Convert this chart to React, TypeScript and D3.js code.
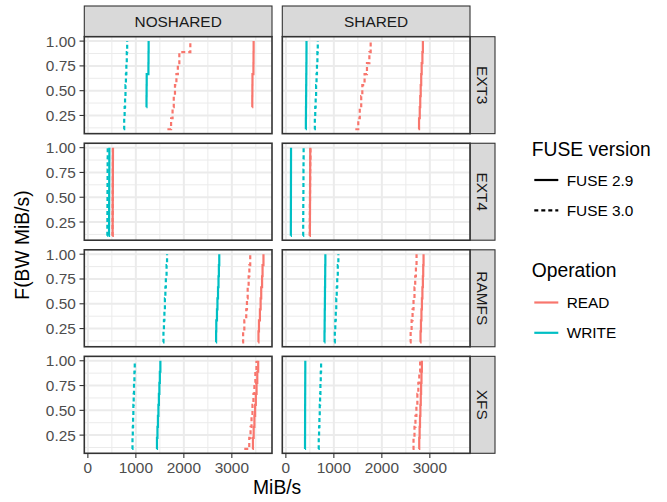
import React from "react";
import * as d3 from "d3";

// facet layout
const sharings = ["NOSHARED", "SHARED"];
const filesystems = ["EXT3", "EXT4", "RAMFS", "XFS"];
const operations = ["READ", "WRITE"];
const versions = ["FUSE 2.9", "FUSE 3.0"];

const opColor: Record<string, string> = { READ: "#F8766D", WRITE: "#00BFC4" };
const versionDash: Record<string, string | undefined> = { "FUSE 2.9": undefined, "FUSE 3.0": "4,3" };

// bandwidth samples (MiB/s), one row per filesystem: EXT3, EXT4, RAMFS, XFS
const nosharedRead29 = [
  [3424, 3424, 3424, 3426, 3428, 3430, 3450, 3452, 3454],
  [515, 516, 517, 518, 519, 520, 521, 522, 523],
  [3549, 3555, 3565, 3585, 3600, 3612, 3630, 3640, 3659],
  [3430, 3440, 3455, 3470, 3485, 3500, 3515, 3530, 3549],
];
const nosharedRead30 = [
  [1657, 1734, 1765, 1790, 1815, 1845, 1875, 1906, 2135],
  [512, 514, 515, 517, 518, 519, 520, 521, 522],
  [3216, 3235, 3260, 3300, 3315, 3330, 3350, 3365, 3383],
  [3259, 3363, 3390, 3410, 3430, 3450, 3470, 3490, 3513],
];
const nosharedWrite29 = [
  [1220, 1220, 1220, 1222, 1224, 1226, 1262, 1264, 1266],
  [440, 441, 442, 443, 444, 445, 446, 447, 448],
  [2669, 2672, 2676, 2690, 2700, 2712, 2722, 2730, 2738],
  [1435, 1440, 1450, 1460, 1470, 1480, 1490, 1500, 1511],
];
const nosharedWrite30 = [
  [748, 757, 766, 775, 784, 793, 802, 811, 819],
  [405, 406, 407, 408, 409, 410, 411, 412, 414],
  [1567, 1575, 1585, 1595, 1605, 1615, 1625, 1640, 1650],
  [923, 930, 936, 942, 948, 955, 962, 970, 977],
];
const sharedRead29 = [
  [2765, 2775, 2790, 2800, 2810, 2820, 2830, 2845, 2855],
  [500, 501, 502, 503, 504, 505, 506, 507, 508],
  [2798, 2806, 2815, 2825, 2835, 2845, 2855, 2862, 2869],
  [2771, 2779, 2787, 2795, 2803, 2811, 2818, 2826, 2834],
];
const sharedRead30 = [
  [1447, 1509, 1540, 1570, 1593, 1640, 1690, 1740, 1767],
  [498, 499, 500, 501, 503, 504, 506, 508, 512],
  [2584, 2600, 2620, 2640, 2660, 2680, 2695, 2710, 2723],
  [2640, 2660, 2680, 2700, 2720, 2740, 2760, 2780, 2798],
];
const sharedWrite29 = [
  [415, 417, 419, 421, 423, 425, 427, 429, 430],
  [103.5, 104, 104.5, 105, 105.5, 106, 106.5, 107, 107.5],
  [803, 805, 808, 810, 813, 815, 818, 820, 823],
  [398, 399, 400, 400.5, 401, 402, 403, 404, 405],
];
const sharedWrite30 = [
  [595, 604, 612, 621, 630, 639, 648, 657, 665],
  [360, 361, 362, 363, 365, 366, 367, 368, 370],
  [1010, 1020, 1030, 1040, 1050, 1060, 1070, 1082, 1094],
  [678, 685, 692, 699, 706, 713, 720, 727, 734],
];

const xTicks = [0, 1000, 2000, 3000];
const yTicks = [0.25, 0.5, 0.75, 1.0];

const samples: Record<string, number[][]> = {
  "NOSHARED|READ|FUSE 2.9": nosharedRead29,
  "NOSHARED|READ|FUSE 3.0": nosharedRead30,
  "NOSHARED|WRITE|FUSE 2.9": nosharedWrite29,
  "NOSHARED|WRITE|FUSE 3.0": nosharedWrite30,
  "SHARED|READ|FUSE 2.9": sharedRead29,
  "SHARED|READ|FUSE 3.0": sharedRead30,
  "SHARED|WRITE|FUSE 2.9": sharedWrite29,
  "SHARED|WRITE|FUSE 3.0": sharedWrite30,
};

const ecdf = (vals: number[]) => {
  const s = [...vals].sort((a, b) => a - b);
  return s.map((v) => ({ x: v, y: s.filter((u) => u <= v).length / s.length }));
};

const FONT = "'Liberation Sans', Arial, sans-serif";
const W = 667;
const H = 502;
const colLeft = [84.3, 282.3];
const panelW = 187.7;
const panelTop = 36.7;
const panelH = 96.95;
const gap = 9.6;
const stripH = 30.7;
const stripW = 25;

const App = () => {
  const all = Object.values(samples).flat(2);
  const [lo, hi] = d3.extent(all) as [number, number];
  const ex = (hi - lo) * 0.05;
  const x = d3.scaleLinear().domain([lo - ex, hi + ex]).range([0, panelW]);
  const yEx = (1 - 1 / 9) * 0.05;
  const y = d3.scaleLinear().domain([1 / 9 - yEx, 1 + yEx]).range([panelH, 0]);
  const line = d3
    .line<{ x: number; y: number }>()
    .x((d) => x(d.x))
    .y((d) => y(d.y))
    .curve(d3.curveStepAfter);

  const xMinor = xTicks.map((t) => t + 500).concat([-500]).filter((t) => t > x.domain()[0] && t < x.domain()[1]);
  const yMinor = [0.125, 0.375, 0.625, 0.875];
  const rowTop = (r: number) => panelTop + r * (panelH + gap);
  const rightEdge = colLeft[1] + panelW;

  return (
    <svg width={W} height={H} style={{ position: "absolute", left: 0, top: 0, background: "white" }} fontFamily={FONT}>
      {/* top strips */}
      {sharings.map((s, c) => (
        <g key={s} transform={`translate(${colLeft[c]},${panelTop - stripH})`}>
          <rect width={panelW} height={stripH} fill="#D9D9D9" stroke="#333333" strokeWidth={1.1} />
          <text x={panelW / 2} y={stripH / 2} textAnchor="middle" dominantBaseline="central" fontSize={15.4} fill="#1A1A1A">
            {s}
          </text>
        </g>
      ))}
      {/* right strips */}
      {filesystems.map((f, r) => (
        <g key={f} transform={`translate(${rightEdge},${rowTop(r)})`}>
          <rect width={stripW} height={panelH} fill="#D9D9D9" stroke="#333333" strokeWidth={1.1} />
          <text
            transform={`translate(${stripW / 2},${panelH / 2}) rotate(90)`}
            textAnchor="middle"
            dominantBaseline="central"
            fontSize={15.4}
            fill="#1A1A1A"
          >
            {f}
          </text>
        </g>
      ))}
      {filesystems.map((f, r) =>
        sharings.map((s, c) => (
          <g key={f + s} transform={`translate(${colLeft[c]},${rowTop(r)})`}>
            <rect width={panelW} height={panelH} fill="white" />
            {xMinor.map((t) => (
              <line key={"xm" + t} x1={x(t)} x2={x(t)} y1={0} y2={panelH} stroke="#EBEBEB" strokeWidth={1} />
            ))}
            {yMinor.map((t) => (
              <line key={"ym" + t} x1={0} x2={panelW} y1={y(t)} y2={y(t)} stroke="#EBEBEB" strokeWidth={1} />
            ))}
            {xTicks.map((t) => (
              <line key={"x" + t} x1={x(t)} x2={x(t)} y1={0} y2={panelH} stroke="#EBEBEB" strokeWidth={2} />
            ))}
            {yTicks.map((t) => (
              <line key={"y" + t} x1={0} x2={panelW} y1={y(t)} y2={y(t)} stroke="#EBEBEB" strokeWidth={2} />
            ))}
            {operations.map((o) =>
              versions.map((v) => (
                <path
                  key={o + v}
                  d={line(ecdf(samples[`${s}|${o}|${v}`][r])) || ""}
                  fill="none"
                  stroke={opColor[o]}
                  strokeWidth={2.2}
                  strokeDasharray={versionDash[v]}
                />
              ))
            )}
            <rect width={panelW} height={panelH} fill="none" stroke="#333333" strokeWidth={1.6} />
            {/* y axis on left column */}
            {c === 0 &&
              yTicks.map((t) => (
                <g key={"yl" + t} transform={`translate(0,${y(t)})`}>
                  <line x1={-4.8} x2={0} stroke="#333333" strokeWidth={1.1} />
                  <text x={-8.5} textAnchor="end" dominantBaseline="central" fontSize={15.4} fill="#4D4D4D">
                    {d3.format(".2f")(t)}
                  </text>
                </g>
              ))}
            {/* x axis on bottom row */}
            {r === filesystems.length - 1 &&
              xTicks.map((t) => (
                <g key={"xl" + t} transform={`translate(${x(t)},${panelH})`}>
                  <line y1={0} y2={4.8} stroke="#333333" strokeWidth={1.1} />
                  <text y={20.2} textAnchor="middle" fontSize={15.4} fill="#4D4D4D">
                    {t}
                  </text>
                </g>
              ))}
          </g>
        ))
      )}
      <text x={(colLeft[0] + rightEdge) / 2} y={494} textAnchor="middle" fontSize={19.3} fill="black">
        MiB/s
      </text>
      <text
        transform={`translate(22,${panelTop + (4 * panelH + 3 * gap) / 2}) rotate(-90)`}
        textAnchor="middle"
        dominantBaseline="central"
        fontSize={19.3}
        fill="black"
      >
        F(BW MiB/s)
      </text>
      {/* legends */}
      <g transform="translate(531.7,0)">
        <text y={156} fontSize={19.3} fill="black">FUSE version</text>
        {versions.map((v, i) => (
          <g key={v} transform={`translate(0,${180 + i * 30.3})`}>
            <line x1={2.6} x2={26.6} stroke="black" strokeWidth={2.2} strokeDasharray={versionDash[v]} />
            <text x={35} dominantBaseline="central" fontSize={15.4} fill="black">{v}</text>
          </g>
        ))}
        <text y={277} fontSize={19.3} fill="black">Operation</text>
        {operations.map((o, i) => (
          <g key={o} transform={`translate(0,${302.5 + i * 30.3})`}>
            <line x1={2.6} x2={26.6} stroke={opColor[o]} strokeWidth={2.2} />
            <text x={35} dominantBaseline="central" fontSize={15.4} fill="black">{o}</text>
          </g>
        ))}
      </g>
    </svg>
  );
};

export default App;
